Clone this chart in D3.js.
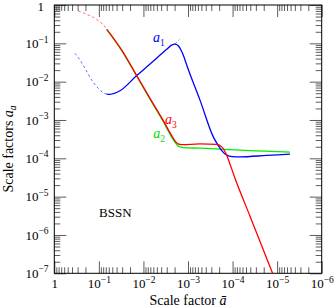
<!DOCTYPE html>
<html>
<head>
<meta charset="utf-8">
<script src="https://cdn.jsdelivr.net/npm/d3@7"></script>
<style>
body { margin: 0; background: #fff; }
text { font-family: "Liberation Serif", "Times New Roman", serif; }
</style>
</head>
<body>
<div id="chart"></div>
<script>
//Curves, as [abar, a] pairs
var a3Dashed = [[0.289,0.697],[0.2235,0.629],[0.1726,0.548],[0.1333,0.477],[0.103,0.389],[0.082,0.319],[0.0667,0.232]];
var a3Solid = [[0.0667,0.232],[0.0457,0.1294],[0.0307,0.0668],[0.01416,0.01441],[0.00712,0.003657],[0.003583,0.000962],
    [0.002286,0.000379],[0.001859,0.000264],[0.001633,0.000234],[0.001363,0.000227],[0.000538,0.000237],[0.000227,0.00023],
    [0.0001753,0.000199],[0.0001354,0.0001208],[0.0001142,0.0000703],[0.0000882,0.0000303],[0.0000406,0.00000308],
    [0.00002186,4.98e-7],[0.00001257,9.82e-8],[0.00000956,4.39e-8]];
var a2Solid = [[0.0667,0.232],[0.0307,0.0648],[0.01416,0.01398],[0.00712,0.003506],[0.003583,0.000906],[0.002286,0.000346],
    [0.001859,0.000241],[0.001633,0.000204],[0.001275,0.0001897],[0.000538,0.000184],[0.000227,0.0001765],[0.0000681,0.0001632],
    [0.00001872,0.0001537],[0.000005146,0.0001447]];
var a1Dashed = [[0.3432,0.0547],[0.2651,0.0366],[0.2047,0.02222],[0.1448,0.01099],[0.103,0.006673],[0.07954,0.005122],[0.0667,0.004737]];
var a1Solid = [[0.0667,0.004737],[0.05626,0.00468],[0.03355,0.005777],[0.01416,0.01441],[0.00712,0.02877],[0.003006,0.06965],
    [0.002286,0.0913],[0.001957,0.09581],[0.001676,0.08755],[0.001436,0.0668],[0.001229,0.04384],[0.001069,0.02709],
    [0.000538,0.0033],[0.0002705,0.000363],[0.0002122,0.0002205],[0.0001753,0.0001584],[0.0001354,0.0001208],[0.000103,0.0001104],
    [0.0000681,0.0001091],[0.00001714,0.0001187],[0.000005146,0.0001283]];
var a1Tip = [[0.001957,0.09581],[0.001551,0.1256]];

//Axis decades and minor ticks
var xMajor = [1,1e-1,1e-2,1e-3,1e-4,1e-5,1e-6];
var yMajor = [1,1e-1,1e-2,1e-3,1e-4,1e-5,1e-6,1e-7];
var minorSteps = [2,3,4,5,6,7,8,9];

//Annotations: [text, subscript, abar, a, colour]
var curveLabels = [["a","1",0.0061,0.1113,"#0000ff"],["a","3",0.00328,0.000803,"#ff0000"],["a","2",0.006007,0.000346,"#00e000"]];
var panelLabel = ["BSSN",0.0993,2.96e-6];

var width = 335, height = 308;
var margin = {left: 54.3, right: 13.3, top: 5, bottom: 34.7};

var svg = d3.select("#chart")
    .append("svg")
    .attr("width",width)
    .attr("height",height);

var x = d3.scaleLog().domain([1,1e-6]).range([margin.left,width - margin.right]);
var y = d3.scaleLog().domain([1,1e-7]).range([margin.top,height - margin.bottom]);

function minors(lo,hi) {
    var out = [];
    for (var e = lo; e < hi; e++) {
        minorSteps.forEach(function(k) {
            out.push(k * Math.pow(10,e));
        });
    }
    return out;
}

//Tick label with superscript exponent
function expLabel(sel,isY) {
    sel.selectAll(".tick text").each(function(d) {
        var t = d3.select(this);
        t.text(null);
        var e = Math.round(Math.log10(d));
        if (e === 0) {
            t.text("1");
            if (isY) t.attr("x",-10.3).attr("dy","0.44em");
        } else {
            t.append("tspan").text("10");
            t.append("tspan").attr("dy",-5.5).attr("font-size",9.5).text("\u2212" + (-e));
        }
    });
}

function styleAxis(g) {
    g.select(".domain").remove();
    g.attr("font-size",13).attr("font-family",null);
    g.selectAll(".tick line").attr("stroke","#333").attr("stroke-width",0.8);
}

var bottom = height - margin.bottom, right = width - margin.right;

svg.append("g").attr("transform","translate(0," + bottom + ")")
    .call(d3.axisBottom(x).tickValues(xMajor).tickSize(-12).tickPadding(5.5))
    .call(styleAxis).call(function(g) { expLabel(g,false); });
svg.append("g").attr("transform","translate(0," + bottom + ")")
    .call(d3.axisBottom(x).tickValues(minors(-6,0)).tickSize(-6).tickFormat(""))
    .call(styleAxis);
svg.append("g").attr("transform","translate(0," + margin.top + ")")
    .call(d3.axisTop(x).tickValues(xMajor).tickSize(-12).tickFormat(""))
    .call(styleAxis);
svg.append("g").attr("transform","translate(0," + margin.top + ")")
    .call(d3.axisTop(x).tickValues(minors(-6,0)).tickSize(-6).tickFormat(""))
    .call(styleAxis);

svg.append("g").attr("transform","translate(" + margin.left + ",0)")
    .call(d3.axisLeft(y).tickValues(yMajor).tickSize(-12).tickPadding(5.8))
    .call(styleAxis).call(function(g) { expLabel(g,true); });
svg.append("g").attr("transform","translate(" + margin.left + ",0)")
    .call(d3.axisLeft(y).tickValues(minors(-7,0)).tickSize(-6).tickFormat(""))
    .call(styleAxis);
svg.append("g").attr("transform","translate(" + right + ",0)")
    .call(d3.axisRight(y).tickValues(yMajor).tickSize(-12).tickFormat(""))
    .call(styleAxis);
svg.append("g").attr("transform","translate(" + right + ",0)")
    .call(d3.axisRight(y).tickValues(minors(-7,0)).tickSize(-6).tickFormat(""))
    .call(styleAxis);

//Plot frame
svg.append("rect")
    .attr("x",margin.left)
    .attr("y",margin.top)
    .attr("width",right - margin.left)
    .attr("height",bottom - margin.top)
    .attr("fill","none")
    .attr("stroke","#000")
    .attr("stroke-width",1);

svg.append("clipPath").attr("id","plot")
    .append("rect")
    .attr("x",margin.left)
    .attr("y",margin.top)
    .attr("width",right - margin.left)
    .attr("height",bottom - margin.top);

var line = d3.line()
    .x(function(d) { return x(d[0]); })
    .y(function(d) { return y(d[1]); })
    .curve(d3.curveMonotoneX);

var curves = [
    {data: a2Solid, color: "#00ee00", dash: null},
    {data: a1Dashed, color: "#0000ff", dash: "2.5,2.5"},
    {data: a1Tip, color: "#0000ff", dash: "2.5,2.5"},
    {data: a1Solid, color: "#0000ff", dash: null},
    {data: a3Dashed, color: "#ff0000", dash: "2.5,2.5"},
    {data: a3Solid, color: "#ff0000", dash: null}
];

svg.append("g")
    .attr("clip-path","url(#plot)")
    .selectAll("path")
    .data(curves)
    .enter()
    .append("path")
    .attr("d",function(d) { return line(d.data); })
    .attr("fill","none")
    .attr("stroke",function(d) { return d.color; })
    .attr("stroke-width",function(d) { return d.dash ? 1 : 1.3; })
    .attr("stroke-opacity",function(d) { return d.dash ? 0.6 : 1; })
    .attr("stroke-dasharray",function(d) { return d.dash; });

//Curve names
var lab = svg.selectAll(".curve-label")
    .data(curveLabels)
    .enter()
    .append("text")
    .attr("class","curve-label")
    .attr("x",function(d) { return x(d[2]); })
    .attr("y",function(d) { return y(d[3]); })
    .attr("fill",function(d) { return d[4]; })
    .attr("font-size",14);
lab.append("tspan").attr("font-style","italic").text(function(d) { return d[0]; });
lab.append("tspan").attr("font-size",9.5).attr("dy",4).text(function(d) { return d[1]; });

svg.append("text")
    .attr("x",x(panelLabel[1]))
    .attr("y",y(panelLabel[2]))
    .attr("font-size",13)
    .text(panelLabel[0]);

//Axis titles
var xt = svg.append("text")
    .attr("x",(margin.left + right) / 2)
    .attr("y",305)
    .attr("text-anchor","middle")
    .attr("font-size",14);
xt.append("tspan").text("Scale factor ");
xt.append("tspan").attr("font-style","italic").text("\u0101");

var yt = svg.append("text")
    .attr("transform","translate(13,149) rotate(-90)")
    .attr("text-anchor","middle")
    .attr("font-size",14);
yt.append("tspan").text("Scale factors ");
yt.append("tspan").attr("font-style","italic").text("a");
yt.append("tspan").attr("font-style","italic").attr("font-size",9.5).attr("dy",3).text("a");
</script>
</body>
</html>
